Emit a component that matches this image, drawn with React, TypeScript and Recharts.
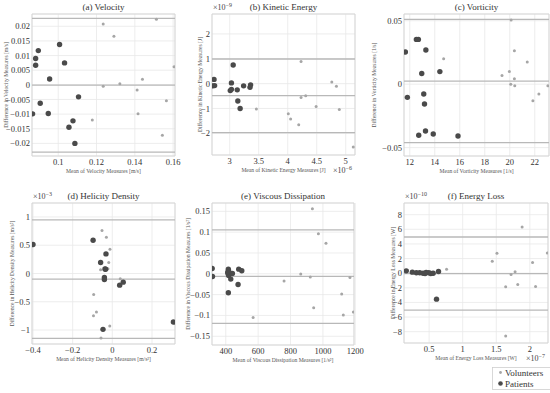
import React from 'react'
import { ScatterChart, Scatter, XAxis, YAxis, CartesianGrid, ReferenceLine, ReferenceArea } from 'recharts'

const FONT = '"Liberation Serif", "DejaVu Serif", serif'

// [mean, difference] pairs (exponents stripped as in the axes)
const velocityPatients = [
  [0.0866, -0.0099], [0.0882, 0.0067], [0.0882, 0.009], [0.0896, 0.0117], [0.0906, -0.0063],
  [0.0955, 0.002], [0.0948, -0.0098], [0.1007, 0.0138], [0.1033, 0.0075], [0.1056, -0.0145],
  [0.1077, -0.0123], [0.1087, -0.02], [0.1106, -0.0041],
]
const velocityVolunteers = [
  [0.1235, 0.0208], [0.1291, 0.0166], [0.1513, 0.0224], [0.1605, 0.0062], [0.1235, -0.0005],
  [0.1322, 0.0004], [0.144, 0.0019], [0.1412, -0.0018], [0.1565, -0.0054], [0.1417, -0.0099],
  [0.1178, -0.012], [0.1544, -0.0172],
]
const velocityLimits = [0.0227, -0.0001, -0.023]

const kineticPatients = [
  [2.73, 0.17], [2.71, -0.09], [2.74, -0.08], [3.03, 0.03], [3.06, 0.75], [3.01, -0.28],
  [3.03, -0.23], [3.13, -0.25], [3.14, -0.7], [3.18, -1.0], [3.24, -0.09], [3.36, -0.05], [3.35, -0.15],
]
const kineticVolunteers = [
  [3.46, -1.02], [4.23, 0.89], [4.23, -0.56], [4.31, -0.49], [4.01, -1.21], [4.05, -1.42],
  [4.19, -1.65], [4.49, -0.92], [4.76, 0.07], [4.84, -0.11], [4.89, -1.04], [5.13, -2.55],
]
const kineticLimits = [0.99, -0.48, -1.97]

const vorticityPatients = [
  [11.65, 0.0253], [11.81, -0.0104], [12.53, 0.0353], [12.69, 0.0353], [13.29, 0.0269],
  [12.96, 0.0084], [13.12, -0.0077], [13.18, -0.0156], [13.26, -0.0369], [12.72, -0.0403],
  [13.88, -0.0393], [14.41, 0.0099], [15.86, -0.0408],
]
const vorticityVolunteers = [
  [14.71, 0.0201], [20.11, 0.0505], [20.37, 0.0264], [19.97, 0.0099], [19.38, 0.0068],
  [20.37, 0.0042], [20.08, 0.0], [20.4, -0.0013], [21.4, 0.0175], [22.33, -0.0077],
  [21.85, -0.013], [23.05, -0.0013],
]
const vorticityLimits = [0.0511, 0.0024, -0.0461]

const helicityPatients = [
  [-0.4, 0.512], [-0.097, 0.588], [-0.032, 0.347], [-0.059, 0.194], [-0.034, 0.076],
  [-0.04, -0.071], [-0.04, -0.106], [0.037, -0.206], [0.055, -0.153], [-0.047, -0.988],
  [0.308, -0.859], [-0.037, 0.08],
]
const helicityVolunteers = [
  [-0.052, 0.759], [-0.03, 0.641], [-0.012, 0.429], [-0.018, 0.194], [-0.059, 0.065],
  [-0.022, 0.082], [0.04, -0.094], [-0.094, -0.371], [-0.08, -0.682], [-0.095, -0.747],
  [-0.013, -0.929], [-0.057, -1.141],
]
const helicityLimits = [0.947, -0.1, -1.147]

const viscousPatients = [
  [316, 0.0128], [318, -0.0064], [416, 0.0112], [418, 0.0064], [414, 0.0008], [418, -0.004],
  [431, -0.0128], [441, 0.0008], [416, -0.0456], [480, 0.0112], [499, 0.0072], [476, -0.0256], [412, 0.004],
]
const viscousVolunteers = [
  [935, 0.156], [972, 0.096], [1019, 0.0736], [863, -0.0008], [922, -0.008], [760, -0.0176],
  [943, -0.0816], [1116, -0.0488], [1126, -0.0992], [1167, -0.0088], [1188, -0.092], [569, -0.1048],
]
const viscousLimits = [0.1056, -0.0064, -0.119]

const energyPatients = [
  [0.16, 0.32], [0.25, 0.14], [0.31, 0.05], [0.36, 0.05], [0.41, 0.0], [0.455, 0.09],
  [0.495, 0.05], [0.525, -0.05], [0.56, 0.0], [0.64, 0.23], [0.61, -3.55], [0.44, -0.05],
]
const energyVolunteers = [
  [0.76, 0.55], [1.44, 1.64], [1.51, 2.73], [1.885, 6.32], [1.72, -0.18], [1.78, 0.18],
  [1.64, -1.86], [1.82, -1.55], [2.04, 1.45], [2.085, -1.82], [2.26, 2.77], [1.64, -8.59],
]
const energyLimits = [4.95, -0.05, -5.05]

const toPts = (arr: number[][]) => arr.map(([m, d]) => ({ m, d }))
const fmt = (v: number) => String(v).replace('-', '\u2212')

const panels = [
  {
    title: '(a) Velocity', xLabel: 'Mean of Velocity Measures [m/s]', yLabel: 'Difference in Velocity Measures [m/s]',
    patients: velocityPatients, volunteers: velocityVolunteers, limits: velocityLimits,
    xDomain: [0.0863, 0.161], xTicks: [0.1, 0.12, 0.14, 0.16],
    yDomain: [-0.0243, 0.0242], yTicks: [-0.02, -0.015, -0.01, -0.005, 0, 0.005, 0.01, 0.015, 0.02],
    px: 32, py: 14, pw: 143, ph: 142, yLabelX: 6,
  },
  {
    title: '(b) Kinetic Energy', xLabel: 'Mean of Kinetic Energy Measures [J]', yLabel: 'Difference in Kinetic Energy Measures [J]',
    patients: kineticPatients, volunteers: kineticVolunteers, limits: kineticLimits,
    xDomain: [2.695, 5.16], xTicks: [3, 3.5, 4, 4.5, 5],
    yDomain: [-2.87, 2.8], yTicks: [-2, -1, 0, 1, 2],
    px: 212, py: 14, pw: 143, ph: 141, yLabelX: 200, topExp: '\u22129', sideExp: '\u22126',
  },
  {
    title: '(c) Vorticity', xLabel: 'Mean of Vorticity Measures [1/s]', yLabel: 'Difference in Vorticity Measures [1/s]',
    patients: vorticityPatients, volunteers: vorticityVolunteers, limits: vorticityLimits,
    xDomain: [11.54, 23.14], xTicks: [12, 14, 16, 18, 20, 22],
    yDomain: [-0.0566, 0.0553], yTicks: [-0.05, 0, 0.05],
    px: 404, py: 14, pw: 145, ph: 142, yLabelX: 374,
  },
  {
    title: '(d) Helicity Density', xLabel: 'Mean of Helicity Density Measures [m/s\u00b2]', yLabel: 'Difference in Helicity Density Measures [m/s\u00b2]',
    patients: helicityPatients, volunteers: helicityVolunteers, limits: helicityLimits,
    xDomain: [-0.405, 0.316], xTicks: [-0.4, -0.2, 0, 0.2],
    yDomain: [-1.247, 1.247], yTicks: [-1, -0.5, 0, 0.5, 1],
    px: 32, py: 203, pw: 143, ph: 141, yLabelX: 12, topExp: '\u22123',
  },
  {
    title: '(e) Viscous Dissipation', xLabel: 'Mean of Viscous Dissipation Measures [1/s\u00b2]', yLabel: 'Difference in Viscous Dissipation Measures [1/s\u00b2]',
    patients: viscousPatients, volunteers: viscousVolunteers, limits: viscousLimits,
    xDomain: [315, 1192], xTicks: [400, 600, 800, 1000, 1200],
    yDomain: [-0.171, 0.17], yTicks: [-0.15, -0.1, -0.05, 0, 0.05, 0.1, 0.15],
    px: 212, py: 203, pw: 142, ph: 142, yLabelX: 188,
  },
  {
    title: '(f) Energy Loss', xLabel: 'Mean of Energy Loss Measures [W]', yLabel: 'Difference in Energy Loss Measures [W]',
    patients: energyPatients, volunteers: energyVolunteers, limits: energyLimits,
    xDomain: [0.126, 2.27], xTicks: [0.5, 1, 1.5, 2],
    yDomain: [-9.55, 9.6], yTicks: [-8, -6, -4, -2, 0, 2, 4, 6, 8],
    px: 404, py: 203, pw: 144, ph: 140, yLabelX: 393, topExp: '\u221210', sideExp: '\u22127',
  },
]

const YW = 34
const XH = 16
const MT = 2
const MR = 12
const tickStyle = { fontSize: 8.5, fill: '#333', fontFamily: FONT }

const Panel = ({ p }: { p: any }) => (
  <div style={{ position: 'absolute', left: p.px - YW, top: p.py - MT }}>
    <ScatterChart width={YW + p.pw + MR} height={MT + p.ph + XH} margin={{ top: MT, right: MR, bottom: 0, left: 0 }}>
      <CartesianGrid stroke="#e8e8e8" strokeWidth={0.8} />
      <XAxis
        type="number" dataKey="m" domain={p.xDomain} ticks={p.xTicks} allowDataOverflow interval={0}
        tickLine={false} axisLine={false} tickSize={0} tickMargin={3} height={XH}
        tick={tickStyle} tickFormatter={fmt}
      />
      <YAxis
        type="number" dataKey="d" domain={p.yDomain} ticks={p.yTicks} allowDataOverflow interval={0}
        tickLine={false} axisLine={false} tickSize={0} tickMargin={2} width={YW}
        tick={tickStyle} tickFormatter={fmt}
      />
      <ReferenceArea x1={p.xDomain[0]} x2={p.xDomain[1]} y1={p.yDomain[0]} y2={p.yDomain[1]} fill="none" stroke="#d2d2d2" strokeWidth={0.8} />
      {p.limits.map((v: number, i: number) => (
        <ReferenceLine key={i} y={v} stroke="#b8b8b8" strokeWidth={1.3} />
      ))}
      <Scatter
        data={toPts(p.volunteers)} isAnimationActive={false}
        shape={(s: any) => <circle cx={s.cx} cy={s.cy} r={1.5} fill="#a6a6a6" />}
      />
      <Scatter
        data={toPts(p.patients)} isAnimationActive={false}
        shape={(s: any) => <circle cx={s.cx} cy={s.cy} r={2.7} fill="#4a4a4a" />}
      />
    </ScatterChart>
  </div>
)

const Exp = ({ x, y, e }: { x: number; y: number; e: string }) => (
  <text x={x} y={y} fontSize={8} fill="#444" fontFamily={FONT}>
    {'\u00d710'}
    <tspan dy={-3} fontSize={6}>{e}</tspan>
  </text>
)

const Annotations = () => (
  <svg width={550} height={393} style={{ position: 'absolute', left: 0, top: 0, pointerEvents: 'none' }}>
    {panels.map((p: any, i) => {
      const cx = p.px + p.pw / 2
      const cy = p.py + p.ph / 2
      const xLabelY = p.py + p.ph + 17
      return (
        <g key={i} fontFamily={FONT}>
          <text x={cx} y={p.py - 4} textAnchor="middle" fontSize={9} fill="#333">{p.title}</text>
          <text x={cx} y={xLabelY} textAnchor="middle" fontSize={5.6} fill="#555">{p.xLabel}</text>
          <text
            x={p.yLabelX} y={cy} textAnchor="middle" fontSize={5.6} fill="#555"
            transform={`rotate(-90 ${p.yLabelX} ${cy})`} dominantBaseline="central"
          >
            {p.yLabel}
          </text>
          {p.topExp && <Exp x={p.px + 1} y={p.py - 4} e={p.topExp} />}
          {p.sideExp && <Exp x={p.px + p.pw - 22} y={xLabelY + 1} e={p.sideExp} />}
        </g>
      )
    })}
    <g fontFamily={FONT}>
      <rect x={492.5} y={367.5} width={62} height={22} fill="#fff" stroke="#cfcfcf" strokeWidth={0.8} />
      <circle cx={500.5} cy={372.5} r={1.4} fill="#a6a6a6" />
      <text x={505} y={375.5} fontSize={9} fill="#333">Volunteers</text>
      <circle cx={500.5} cy={383.5} r={2.3} fill="#4a4a4a" />
      <text x={505} y={386.5} fontSize={9} fill="#333">Patients</text>
    </g>
  </svg>
)

export default function App() {
  return (
    <div style={{ position: 'absolute', left: 0, top: 0, width: 550, height: 393, background: '#fff', overflow: 'hidden' }}>
      {panels.map((p, i) => (
        <Panel key={i} p={p} />
      ))}
      <Annotations />
    </div>
  )
}
